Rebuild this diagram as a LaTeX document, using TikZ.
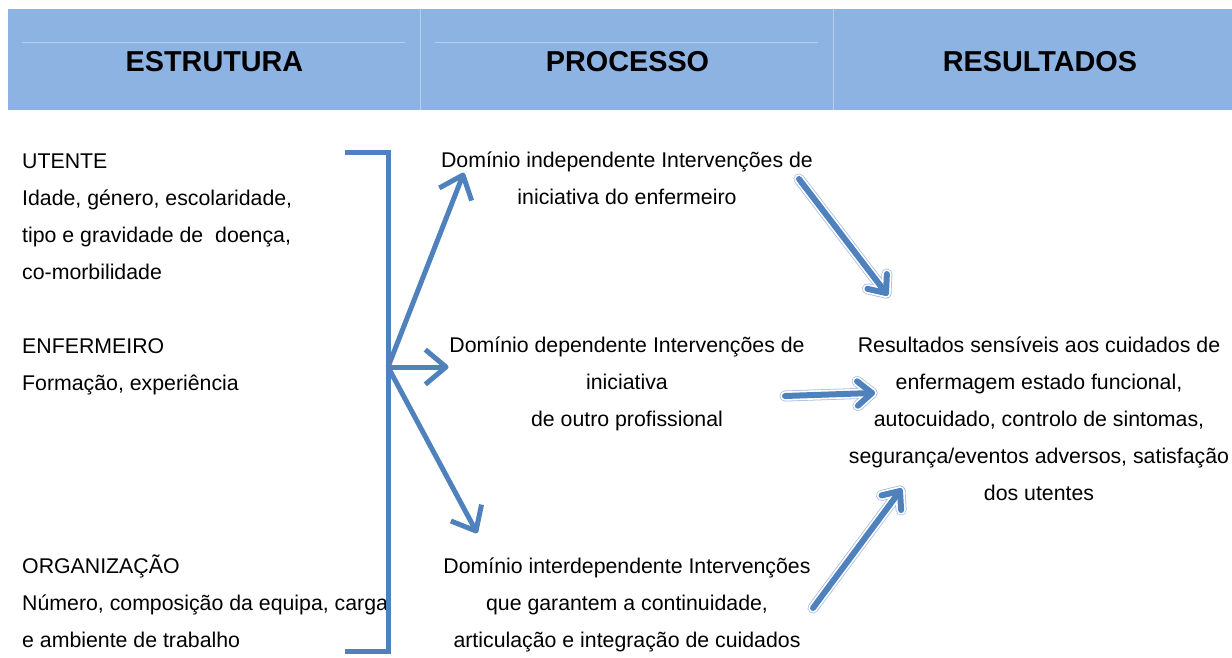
\documentclass[tikz,border=0pt]{standalone}
\usepackage{fontspec}
\setmainfont{Liberation Sans}
\usetikzlibrary{calc}
\definecolor{hdr}{RGB}{141,179,226}
\definecolor{hdrline}{RGB}{186,206,234}
\definecolor{arr}{RGB}{79,129,189}
\definecolor{glow}{RGB}{165,190,222}
\newcommand{\leftarrowdraw}[2]{%
  \draw[leftarr] (#1) -- (#2);
  \draw[leftarr] ($(#2)!27pt!40:(#1)$) -- (#2) -- ($(#2)!27pt!-40:(#1)$);}
\newcommand{\rightarrowdraw}[2]{%
  \foreach \st in {rglow,rwhite,rblue}{
    \draw[\st] (#1) -- (#2);
    \draw[\st] ($(#2)!19pt!40:(#1)$) -- (#2) -- ($(#2)!19pt!-40:(#1)$);}}
\begin{document}
\begin{tikzpicture}[x=1pt,y=-1pt,
 body/.style={font=\fontsize{21.3}{37}\selectfont, inner sep=0pt},
 lefttext/.style={body, align=left, anchor=base west},
 midtext/.style={body, align=center, anchor=base},
 hdrtext/.style={font=\fontsize{28.8}{30}\selectfont\bfseries, inner sep=0pt, anchor=base},
 leftarr/.style={draw=arr, line width=5pt, line join=round, line cap=butt},
 rglow/.style={draw=glow, line width=11pt, line join=round, line cap=round},
 rwhite/.style={draw=white, line width=9.4pt, line join=round, line cap=round},
 rblue/.style={draw=arr, line width=6pt, line join=round, line cap=round},
 bracket/.style={draw=arr, line width=5pt}]
\useasboundingbox (0,0) rectangle (1232,657);

% header band
\fill[hdr] (8,9) rectangle (1232,110);
\draw[hdrline, line width=1pt] (420.5,9) -- (420.5,110);
\draw[hdrline, line width=1pt] (833,9) -- (833,110);
\draw[hdrline, line width=1pt] (22,42) -- (405,42);
\draw[hdrline, line width=1pt] (435,42) -- (818,42);
\node[hdrtext] (h1) at (214.5,71) {ESTRUTURA};
\node[hdrtext] (h2) at (627.5,71) {PROCESSO};
\node[hdrtext] (h3) at (1040,71) {RESULTADOS};

% left column (anchor base = last line baseline)
\node[lefttext] (utente) at (22,279) {UTENTE\\Idade, género, escolaridade,\\tipo e gravidade de\ \ doença,\\co-morbilidade};
\node[lefttext] (enf) at (22,390) {ENFERMEIRO\\Formação, experiência};
\node[lefttext] (org) at (22,647) {ORGANIZAÇÃO\\Número, composição da equipa, carga\\e ambiente de trabalho};

% middle column
\node[midtext] (p1) at (627,204) {Domínio independente Intervenções de\\iniciativa do enfermeiro};
\node[midtext] (p2) at (627,426) {Domínio dependente Intervenções de\\iniciativa\\de outro profissional};
\node[midtext] (p3) at (627,647) {Domínio interdependente Intervenções\\que garantem a continuidade,\\articulação e integração de cuidados};

% right column
\node[midtext] (r) at (1039,500) {Resultados sensíveis aos cuidados de\\enfermagem estado funcional,\\autocuidado, controlo de sintomas,\\segurança/eventos adversos, satisfação\\dos utentes};

% bracket and left arrows
\coordinate (btop) at (345,152);
\coordinate (bbot) at (345,651);
\coordinate (j) at (388,367);
\draw[bracket] (btop) -- (388,152) -- (388,651) -- (bbot);
\coordinate (t1) at (463,175);
\coordinate (t2) at (446,367);
\coordinate (t3) at (476,531);
\leftarrowdraw{j}{t1}
\leftarrowdraw{j}{t2}
\leftarrowdraw{j}{t3}

% right arrows
\coordinate (s1) at (799,179);
\coordinate (e1) at (886,293);
\coordinate (s2) at (785,396);
\coordinate (e2) at (872,393);
\coordinate (s3) at (813,608);
\coordinate (e3) at (900,491);
\rightarrowdraw{s1}{e1}
\rightarrowdraw{s2}{e2}
\rightarrowdraw{s3}{e3}
\end{tikzpicture}
\end{document}
